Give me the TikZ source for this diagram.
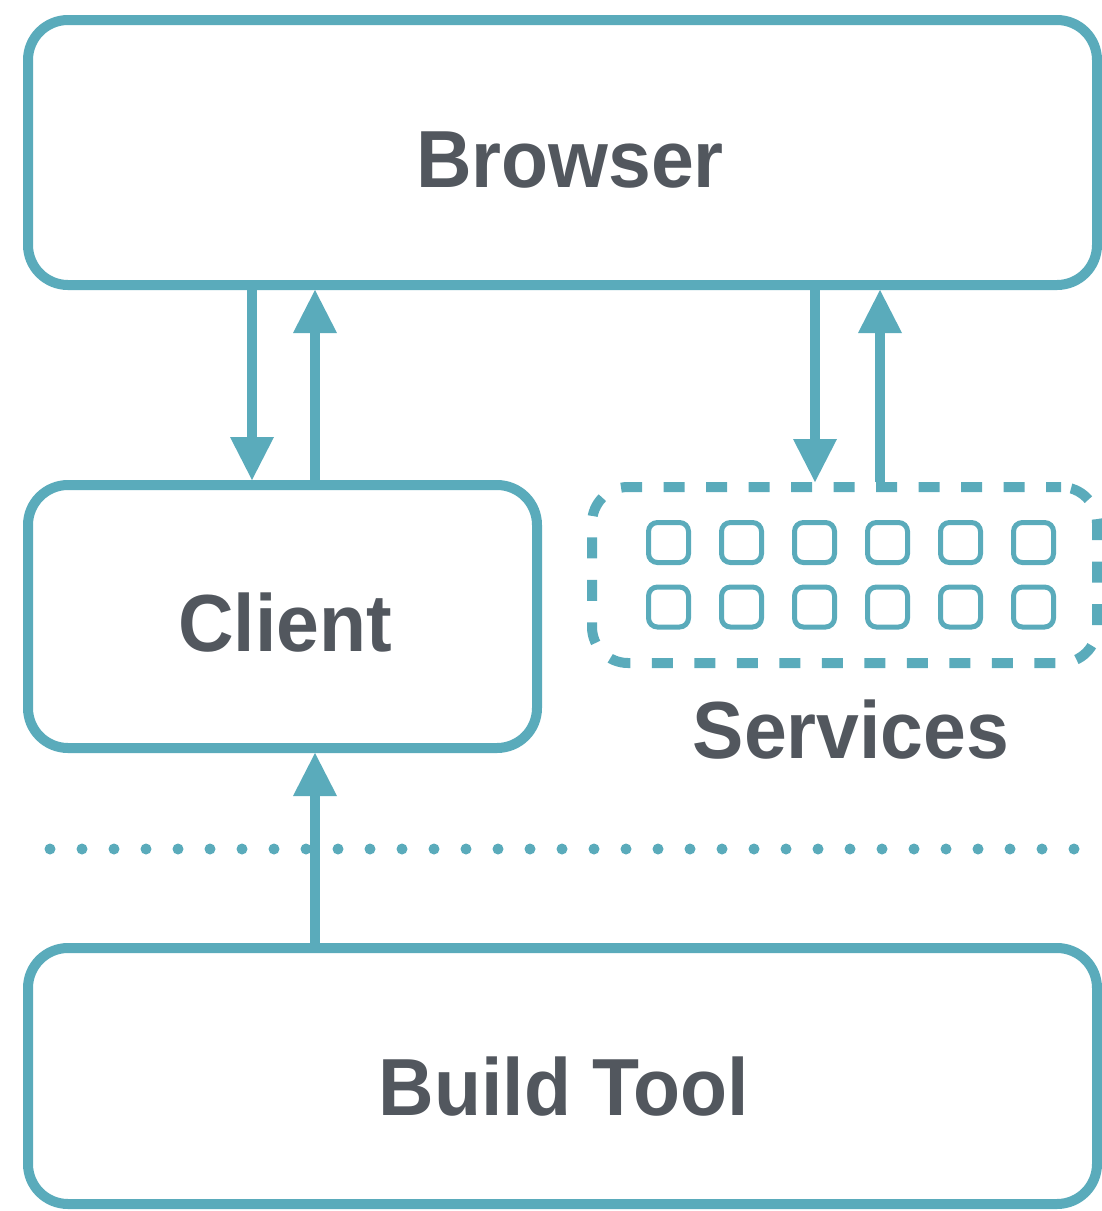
\documentclass[tikz,border=0pt]{standalone}
\usepackage{fontspec}
\setmainfont{Liberation Sans}[FakeStretch=0.95]
\usetikzlibrary{arrows.meta}
\definecolor{lineblue}{RGB}{90,171,187}
\definecolor{textgray}{RGB}{82,87,94}
\tikzset{
  box/.style={draw=lineblue, line width=10pt, rounded corners=40pt, inner sep=0pt},
  dbox/.style={draw=lineblue, line width=10pt, rounded corners=36pt, inner sep=0pt,
    dash pattern=on 21pt off 21.5pt, dash phase=6pt},
  sq/.style={draw=lineblue, line width=5pt, rounded corners=9pt, inner sep=0pt,
    minimum width=40pt, minimum height=40pt},
  arr/.style={draw=lineblue, line width=10pt,
    -{Triangle[width=44pt,length=43pt,line width=0pt]}},
  lbl/.style={text=textgray, font=\fontsize{81}{97}\selectfont\bfseries, anchor=base, inner sep=0pt},
  dots/.style={draw=lineblue, line width=11pt, line cap=round, dash pattern=on 0pt off 32pt}
}
\begin{document}
\begin{tikzpicture}[x=1pt,y=-1pt]
\useasboundingbox (0,0) rectangle (1102,1211);
% boxes
\node[box, minimum width=1069pt, minimum height=265pt] (browser) at (562.5,152.5) {};
\node[box, minimum width=509pt, minimum height=263pt] (client) at (282.5,616.5) {};
\node[box, minimum width=1069pt, minimum height=256pt] (build) at (562.5,1076) {};
\node[dbox, minimum width=505pt, minimum height=176pt] (services) at (844.5,575) {};
% service squares
\foreach \c [count=\i] in {668.5,741.5,814.5,887.5,960.5,1033.5} {
  \node[sq] (sa\i) at (\c,542.5) {};
  \node[sq] (sb\i) at (\c,607) {};
}
% labels
\node[lbl] (tbrowser) at (570,187) {Browser};
\node[lbl] (tclient) at (285,651) {Client};
\node[lbl] (tservices) at (851,758) {Services};
\node[lbl] (tbuild) at (564,1115) {Build Tool};
% dotted separator
\coordinate (d1) at (50,849);
\coordinate (d2) at (1080,849);
\draw[dots] (d1) -- (d2);
% arrow columns
\coordinate (x1) at (252,0);
\coordinate (x2) at (315,0);
\coordinate (x3) at (815,0);
\coordinate (x4) at (880,0);
\draw[arr] (browser.south -| x1) -- (client.north -| x1);
\draw[arr] (client.north -| x2) -- (browser.south -| x2);
\draw[arr] (browser.south -| x3) -- (services.north -| x3);
\draw[arr] (services.north -| x4) -- (browser.south -| x4);
\draw[arr] (build.north -| x2) -- (client.south -| x2);
\end{tikzpicture}
\end{document}
